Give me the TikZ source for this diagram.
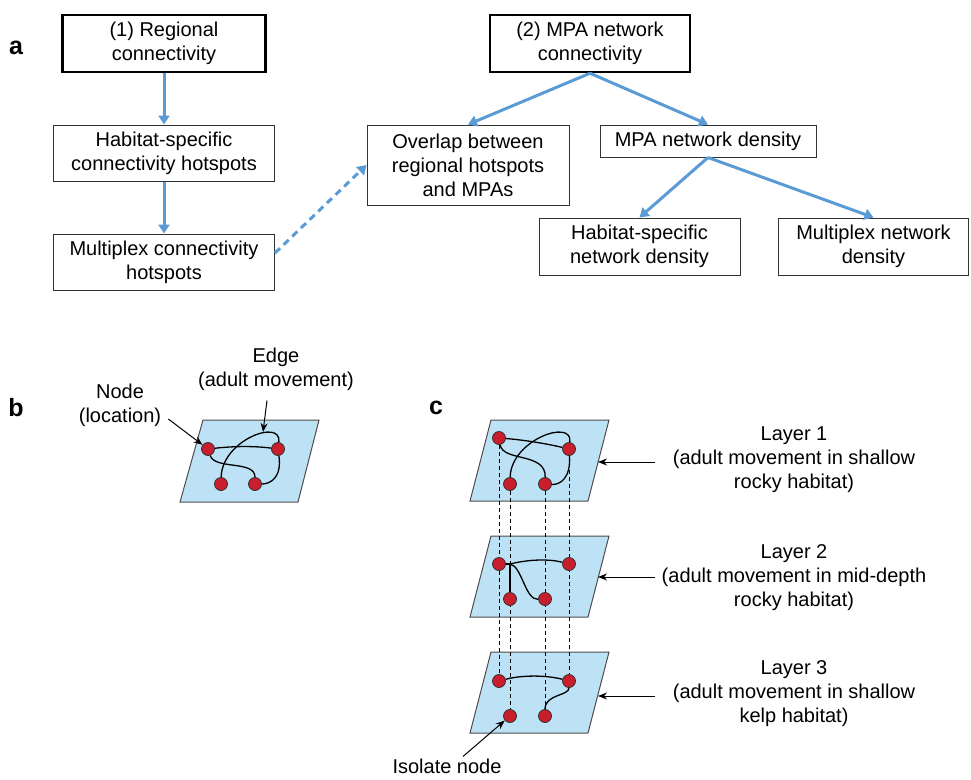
\documentclass[tikz,border=0pt]{standalone}
\usepackage{fontspec}
\setmainfont{Liberation Sans}
\usepackage{tikz}
\usetikzlibrary{arrows.meta, backgrounds}
\definecolor{flowblue}{RGB}{91,155,213}
\definecolor{planeblue}{RGB}{190,226,245}
\definecolor{sitered}{RGB}{200,30,45}

\begin{document}
\begin{tikzpicture}[x=1pt, y=-1pt, font=\fontsize{20}{24}\selectfont,
  box/.style={draw=black!80, line width=1pt, align=center, inner sep=0pt},
  topbox/.style={box, draw=black, line width=2.5pt},
  note/.style={align=center, inner sep=0pt},
  tag/.style={inner sep=0pt, font=\fontsize{25}{30}\selectfont\bfseries},
  flow/.style={flowblue, line width=3pt, -{Triangle[width=11pt,length=9pt]}},
  site/.style={circle, draw=black!80, fill=sitered, line width=0.8pt, minimum size=13pt, inner sep=0pt},
  link/.style={line width=1.3pt},
  pointer/.style={line width=1pt, -{Stealth[length=9pt,width=7pt]}},
  plane/.style={fill=planeblue, draw=black!70, line width=1pt}]
\useasboundingbox (0,0) rectangle (971,779);

\node[tag] (taga) at (16,48) {a};
\node[tag] (tagb) at (16,408) {b};
\node[tag] (tagc) at (436,408) {c};

\node[topbox, minimum width=203pt, minimum height=57pt] (regional) at (164,43.5) {(1) Regional\\connectivity};
\node[box, minimum width=221pt, minimum height=56pt] (habhot) at (164,153) {Habitat-specific\\connectivity hotspots};
\node[box, minimum width=221pt, minimum height=56pt] (multhot) at (164,262) {Multiplex connectivity\\hotspots};
\node[topbox, minimum width=200pt, minimum height=57pt] (mpanet) at (590,43.5) {(2) MPA network\\connectivity};
\node[box, minimum width=202pt, minimum height=80pt] (overlap) at (468,165) {Overlap between\\regional hotspots\\and MPAs};
\node[box, minimum width=216pt, minimum height=32pt] (density) at (708,141) {MPA network density};
\node[box, minimum width=201pt, minimum height=57pt] (habdens) at (639.5,246.5) {Habitat-specific\\network density};
\node[box, minimum width=190pt, minimum height=57pt] (multdens) at (873.5,246.5) {Multiplex network\\density};

\draw[flow] (regional) -- (habhot);
\draw[flow] (habhot) -- (multhot);
\draw[flow, dash pattern=on 7pt off 5pt] ([yshift=9pt]multhot.east) -- (overlap.west);
\draw[flow] (mpanet.south) -- (overlap.north);
\draw[flow] (mpanet.south) -- (density.north);
\draw[flow] (density.south) -- (habdens.north);
\draw[flow] (density.south) -- (multdens.north);

\node[note] (nodelbl) at (120,405) {Node\\(location)};
\node[note] (edgelbl) at (276,369) {Edge\\(adult movement)};
\node[site] (b1) at (208,449) {};
\node[site] (b2) at (278,449) {};
\node[site] (b3) at (221,484) {};
\node[site] (b4) at (255,484) {};
\draw[link] (b1) .. controls (235,446) and (255,446) .. (b2);
\draw[link] (b1) .. controls (215,470) and (255,460) .. (b4);
\draw[link] (b3) .. controls (222,440) and (282,418) .. (b2);
\draw[link] (b2) .. controls (282,478) and (270,484) .. (b4);
\coordinate (edgept) at (263,432);
\draw[pointer] ([xshift=7pt,yshift=-14pt]nodelbl.east) -- (b1);
\draw[pointer] ([xshift=-9pt,yshift=-10pt]edgelbl.south) -- (edgept);

\foreach \n/\x/\y in {c11/499/438, c12/569/449, c13/510/484, c14/545/484,
                      c21/499/564, c22/569/564, c23/510/599, c24/545/599,
                      c31/499/681, c32/569/681, c33/510/716, c34/545/716}
  \node[site] (\n) at (\x,\y) {};
\draw[link] (c11) .. controls (525,440) and (548,444) .. (c12);
\draw[link] (c11) .. controls (503,462) and (546,452) .. (c14);
\draw[link] (c13) .. controls (511,440) and (573,418) .. (c12);
\draw[link] (c12) .. controls (571,478) and (560,485) .. (c14);
\coordinate (j2) at (510,564);
\draw[link] (c21) -- (j2) -- (c23);
\draw[link] (j2) .. controls (522,566) and (525,600) .. (c24);
\draw[link] (j2) .. controls (530,559) and (550,559) .. (c22);
\draw[link] (c31) .. controls (522,675) and (546,675) .. (c32);
\draw[link] (c32) .. controls (569,696) and (545,694) .. (c34);

\node[note] (lay1) at (794,460) {Layer 1\\(adult movement in shallow\\rocky habitat)};
\node[note] (lay2) at (794,578) {Layer 2\\(adult movement in mid-depth\\rocky habitat)};
\node[note] (lay3) at (794,694) {Layer 3\\(adult movement in shallow\\kelp habitat)};
\foreach \i/\y in {1/462, 2/577, 3/696} {
  \coordinate (from\i) at (655,\y);
  \coordinate (rim\i) at (598,\y);
  \draw[pointer] (from\i) -- (rim\i);
}
\node[note] (isolbl) at (447,766) {Isolate node};
\draw[pointer] ([xshift=16pt,yshift=2pt]isolbl.north) -- (c33);

\begin{scope}[on background layer]
\draw[plane] (203,420) -- (319,420) -- (298,502) -- (180,502) -- cycle;
\foreach \t in {420,536,652}
  \draw[plane] (491,\t) -- (609,\t) -- (588,\t+81) -- (470,\t+81) -- cycle;
\foreach \a/\b in {c11/c31, c12/c32, c13/c33, c14/c34}
  \draw[line width=0.9pt, dash pattern=on 4pt off 3pt] (\a.center) -- (\b.center);
\end{scope}
\end{tikzpicture}
\end{document}
